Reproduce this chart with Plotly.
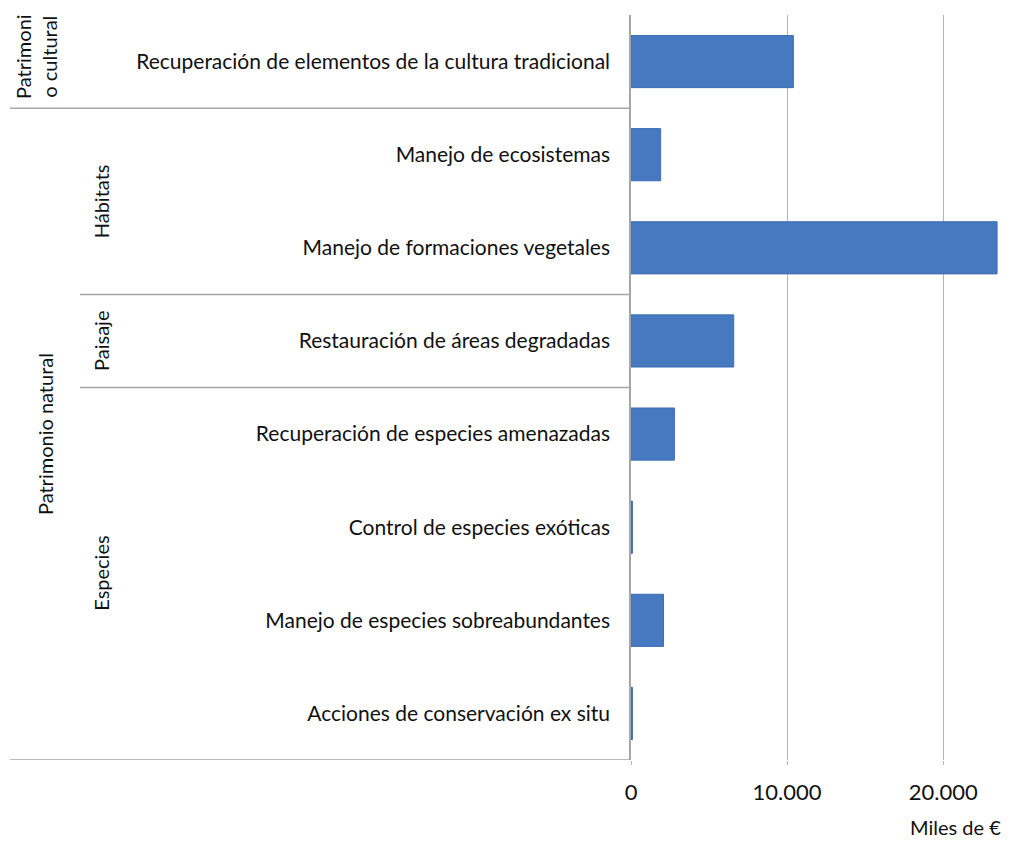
import plotly.graph_objects as go

categories = [
    "Recuperación de elementos de la cultura tradicional",
    "Manejo de ecosistemas",
    "Manejo de formaciones vegetales",
    "Restauración de áreas degradadas",
    "Recuperación de especies amenazadas",
    "Control de especies exóticas",
    "Manejo de especies sobreabundantes",
    "Acciones de conservación ex situ",
]
values = [10400, 1900, 23450, 6580, 2780, 90, 2080, 90]

# level-2 groups: (label, first index, last index)
subgroups = [("Hábitats", 1, 2), ("Paisaje", 3, 3), ("Especies", 4, 7)]
# level-1 groups
groups = [("Patrimoni<br>o cultural", 0, 0), ("Patrimonio natural", 1, 7)]

tick_vals = [0, 10000, 20000]
tick_text = ["0", "10.000", "20.000"]
x_title = "Miles de €"

FONT = "Lato, 'Open Sans', sans-serif"
TXT = "#111111"
OFF = 8  # page body offset
W, H = 1015 - OFF, 841 - OFF
L, R, T = 631 - OFF, 0, 15 - OFF
B = H - (760 - OFF)
plot_w = W - L - R
plot_h = H - T - B

def px_to_paper(px):  # page x pixel -> paper fraction
    return (px - OFF - L) / plot_w

fig = go.Figure(go.Bar(
    y=categories, x=values, orientation="h",
    marker=dict(color="#4679C0", line=dict(color="#3d6db3", width=1)),
    width=0.56,
))

shapes = []
line_style = dict(color="#a6a6a6", width=1.5)
for ypos, xstart in [(0.5, 10), (2.5, 80), (3.5, 80), (7.5, 10)]:
    shapes.append(dict(type="line", xref="paper", yref="y",
                       x0=px_to_paper(xstart), x1=0, y0=ypos, y1=ypos,
                       line=line_style, layer="above"))

annotations = []
for label, a, b in subgroups:
    annotations.append(dict(text=label, textangle=-90, xref="paper", yref="y",
                            x=px_to_paper(101), y=(a + b) / 2, showarrow=False,
                            font=dict(family=FONT, size=20, color=TXT),
                            xanchor="center", yanchor="middle"))
for label, a, b in groups:
    xp = 36 if a == 0 else 45
    annotations.append(dict(text=label, textangle=-90, xref="paper", yref="y",
                            x=px_to_paper(xp), y=(a + b) / 2 - (0.05 if a == 0 else 0),
                            showarrow=False,
                            font=dict(family=FONT, size=20, color=TXT),
                            xanchor="center", yanchor="middle"))
annotations.append(dict(text=x_title, xref="paper", yref="paper",
                        x=px_to_paper(1003), y=-(827 - 760) / plot_h, showarrow=False,
                        xanchor="right", yanchor="middle",
                        font=dict(family=FONT, size=20, color=TXT)))

fig.update_layout(
    width=W, height=H,
    margin=dict(l=L, r=R, t=T, b=B),
    paper_bgcolor="white", plot_bgcolor="white",
    showlegend=False,
    font=dict(family=FONT, size=21, color=TXT),
    shapes=shapes, annotations=annotations,
    xaxis=dict(range=[0, 24600], tickvals=tick_vals, ticktext=tick_text,
               showgrid=True, gridcolor="#b3b3b3", gridwidth=1.2,
               zeroline=False, showline=False,
               ticks="outside", ticklen=4, tickcolor="#b3b3b3",
               ticklabelstandoff=9,
               tickfont=dict(family=FONT, size=22, color=TXT)),
    yaxis=dict(categoryorder="array", categoryarray=categories,
               range=[7.5, -0.5], showgrid=False, zeroline=False,
               showline=True, linecolor="#a6a6a6", linewidth=1.5,
               ticks="", ticklabelstandoff=15,
               tickfont=dict(family=FONT, size=21, color=TXT)),
)

fig.write_html("out.html")
